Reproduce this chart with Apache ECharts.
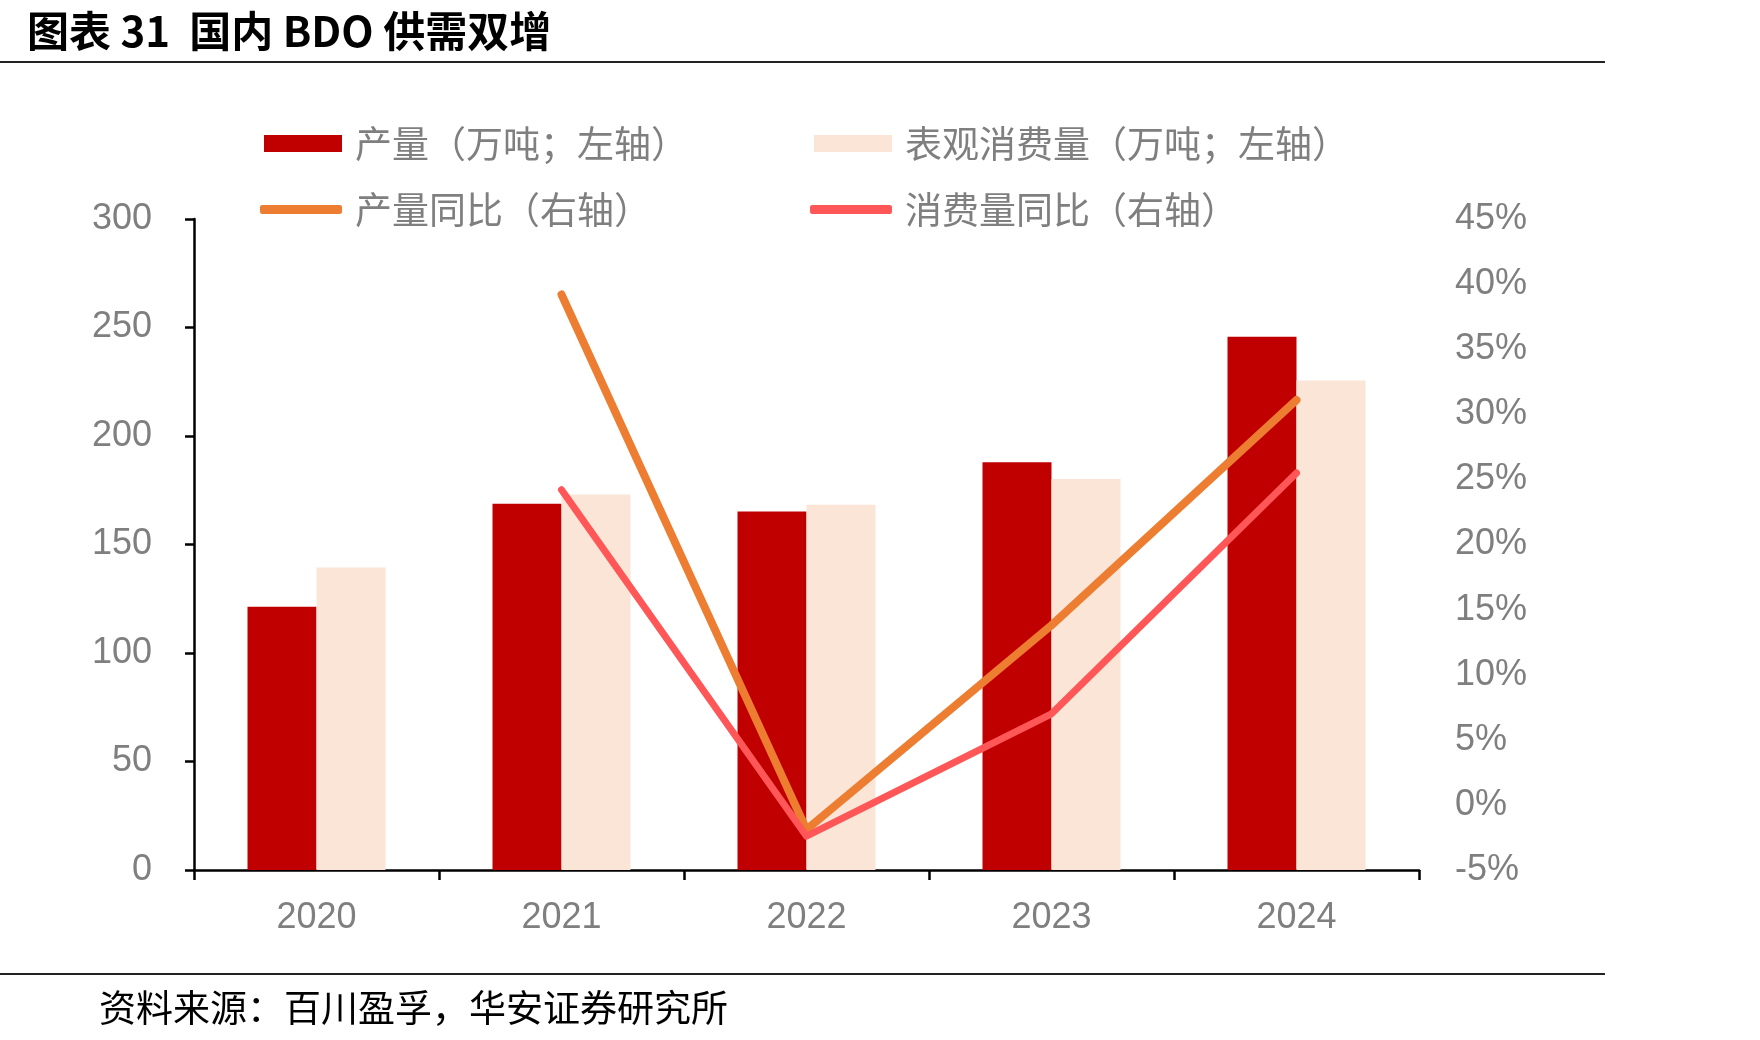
<!DOCTYPE html>
<html>
<head>
<meta charset="utf-8">
<script src="https://cdn.jsdelivr.net/npm/echarts@6/dist/echarts.min.js"></script>
<style>html,body{margin:0;padding:0;background:#fff;}#c{width:1760px;height:1040px;}</style>
</head>
<body>
<div id="c"></div>
<script>
const years = ['2020', '2021', '2022', '2023', '2024'];
const production = [121.3, 168.8, 165.2, 187.9, 245.7];
const consumption = [139.4, 173.0, 168.3, 180.2, 225.6];
const productionYoY = [null, 39.2, -1.9, 13.8, 31.1];
const consumptionYoY = [null, 24.2, -2.4, 7.0, 25.5];
const seriesNames = ['产量（万吨；左轴）', '表观消费量（万吨；左轴）', '产量同比（右轴）', '消费量同比（右轴）'];
const titleText = '图表 31  国内 BDO 供需双增';
const sourceText = '资料来源：百川盈孚，华安证券研究所';

const chart = echarts.init(document.getElementById('c'), null, {renderer: 'canvas'});
const cjk = '"Noto Sans CJK SC", "Noto Sans", sans-serif';
const latin = '"Liberation Sans", Arial, sans-serif';
const gray = '#7f7f7f';
const legendText = {color: gray, fontSize: 37, fontFamily: cjk, padding: [0, 0, 0, 8]};

function legendItem(name, left, top, icon, w, h) {
  return {
    data: [name], left: left, top: top, icon: icon,
    itemWidth: w, itemHeight: h, textStyle: legendText,
    selectedMode: false, padding: 0
  };
}

chart.setOption({
  animation: false,
  backgroundColor: '#fff',
  title: [
    {text: titleText, left: 22, top: 5,
     textStyle: {fontSize: 42, fontWeight: 'bold', color: '#000', fontFamily: cjk}},
    {text: sourceText, left: 94, top: 984,
     textStyle: {fontSize: 37, fontWeight: 'normal', color: '#000', fontFamily: cjk}}
  ],
  graphic: [
    {type: 'line', shape: {x1: 0, y1: 62, x2: 1605, y2: 62}, style: {stroke: '#222', lineWidth: 2}},
    {type: 'line', shape: {x1: 0, y1: 974, x2: 1605, y2: 974}, style: {stroke: '#222', lineWidth: 2}}
  ],
  legend: [
    legendItem(seriesNames[0], 264, 125, 'rect', 78, 17),
    legendItem(seriesNames[1], 814, 125, 'rect', 78, 17),
    legendItem(seriesNames[2], 260, 191, 'roundRect', 82, 9),
    legendItem(seriesNames[3], 810, 191, 'roundRect', 82, 9)
  ],
  grid: {left: 194, right: 341, top: 219, bottom: 170, containLabel: false},
  xAxis: {
    type: 'category', data: years,
    axisLine: {show: true, lineStyle: {color: '#000', width: 2.5}},
    axisTick: {show: true, length: 10, lineStyle: {color: '#000', width: 2.5}},
    axisLabel: {color: gray, fontSize: 36, fontFamily: latin, margin: 30},
    splitLine: {show: false}
  },
  yAxis: [
    {type: 'value', min: 0, max: 300, interval: 50, position: 'left',
     axisLine: {show: true, lineStyle: {color: '#000', width: 2.5}},
     axisTick: {show: true, length: 9, lineStyle: {color: '#000', width: 2.5}},
     axisLabel: {color: gray, fontSize: 36, fontFamily: latin, margin: 42},
     splitLine: {show: false}},
    {type: 'value', min: -5, max: 45, interval: 5, position: 'right',
     axisLine: {show: false}, axisTick: {show: false},
     axisLabel: {color: gray, fontSize: 36, fontFamily: latin, margin: 36, formatter: '{value}%'},
     splitLine: {show: false}}
  ],
  series: [
    {name: seriesNames[0], type: 'bar', data: production, yAxisIndex: 0,
     barWidth: 69, barGap: '0%', itemStyle: {color: '#C00000'}},
    {name: seriesNames[1], type: 'bar', data: consumption, yAxisIndex: 0,
     barWidth: 69, barGap: '0%', itemStyle: {color: '#FBE5D6'}},
    {name: seriesNames[2], type: 'line', data: productionYoY, yAxisIndex: 1,
     showSymbol: false, symbol: 'none', connectNulls: false,
     itemStyle: {color: '#ED7D31'},
     lineStyle: {color: '#ED7D31', width: 8, cap: 'round', join: 'round'}},
    {name: seriesNames[3], type: 'line', data: consumptionYoY, yAxisIndex: 1,
     showSymbol: false, symbol: 'none', connectNulls: false,
     itemStyle: {color: '#FF5757'},
     lineStyle: {color: '#FF5757', width: 7, cap: 'round', join: 'round'}}
  ]
});
</script>
</body>
</html>
